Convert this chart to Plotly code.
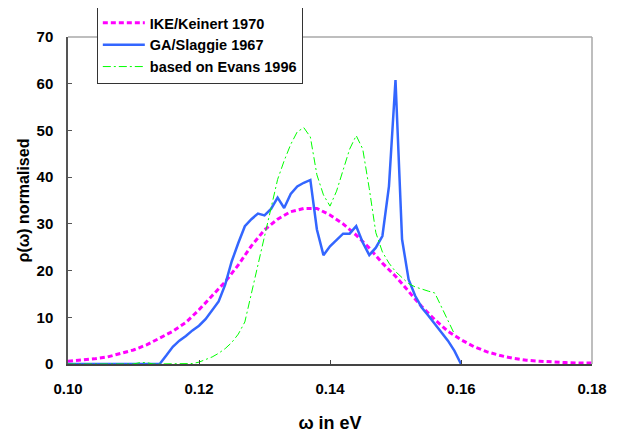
import plotly.graph_objects as go

# ---- data ----
ike_x = [0.100, 0.102, 0.104, 0.106, 0.108, 0.110, 0.112, 0.114, 0.116, 0.118,
         0.120, 0.122, 0.124, 0.126, 0.128, 0.130, 0.132, 0.134, 0.136, 0.138,
         0.140, 0.142, 0.144, 0.146, 0.148, 0.150, 0.152, 0.154, 0.156, 0.158,
         0.160, 0.162, 0.164, 0.166, 0.168, 0.170, 0.172, 0.174, 0.176, 0.178, 0.180]
ike_y = [0.6, 0.8, 1.1, 1.5, 2.2, 3.0, 4.1, 5.5, 7.0, 8.9,
         11.6, 14.6, 17.6, 21.2, 25.3, 28.7, 31.0, 32.6, 33.3, 33.3,
         31.9, 30.0, 27.6, 24.8, 21.6, 18.8, 15.5, 12.3, 9.5, 7.0,
         5.2, 3.7, 2.6, 1.8, 1.2, 0.8, 0.6, 0.4, 0.3, 0.2, 0.2]

ga_x = [0.100, 0.114, 0.115, 0.116, 0.117, 0.118, 0.119, 0.120, 0.121, 0.122,
        0.123, 0.124, 0.125, 0.126, 0.127, 0.128, 0.129, 0.130, 0.131, 0.132,
        0.133, 0.134, 0.135, 0.136, 0.137, 0.138, 0.139, 0.140, 0.141, 0.142,
        0.143, 0.144, 0.145, 0.146, 0.147, 0.148, 0.149, 0.150, 0.151, 0.152,
        0.153, 0.154, 0.155, 0.156, 0.157, 0.158, 0.159, 0.160]
ga_y = [0.0, 0.0, 1.8, 3.7, 5.0, 6.0, 7.2, 8.2, 9.6, 11.4,
        13.4, 17.0, 22.0, 25.9, 29.5, 31.0, 32.2, 31.8, 33.2, 35.6,
        33.4, 36.4, 38.0, 38.8, 39.4, 28.8, 23.3, 25.2, 26.6, 27.9,
        27.9, 29.5, 26.0, 23.3, 24.9, 27.4, 38.0, 60.8, 26.7, 18.1,
        14.6, 12.1, 10.4, 8.6, 6.6, 5.0, 2.8, 0.0]

ev_x = [0.100, 0.110, 0.111, 0.112, 0.113, 0.118, 0.119, 0.120, 0.121, 0.122,
        0.123, 0.124, 0.125, 0.126, 0.127, 0.128, 0.129, 0.130, 0.131, 0.132,
        0.133, 0.134, 0.135, 0.136, 0.137, 0.138, 0.139, 0.140, 0.141, 0.142,
        0.143, 0.144, 0.145, 0.146, 0.147, 0.148, 0.149, 0.150, 0.151, 0.152,
        0.153, 0.154, 0.155, 0.156, 0.157, 0.158, 0.159]
ev_y = [0.0, 0.0, 0.3, 0.3, 0.0, 0.0, 0.1, 0.4, 0.9, 1.5,
        2.3, 3.3, 4.6, 6.4, 9.0, 15.0, 21.0, 27.0, 33.5, 39.5,
        43.5, 47.0, 49.7, 50.6, 48.6, 40.5, 36.2, 33.8, 37.0, 41.5,
        46.0, 48.9, 46.0, 37.5, 28.1, 24.0, 21.6, 19.8, 18.6, 17.2,
        16.5, 16.0, 15.6, 15.2, 12.3, 9.5, 6.4]

names = ["IKE/Keinert 1970", "GA/Slaggie 1967", "based on Evans 1996"]
x_ticks = [0.10, 0.12, 0.14, 0.16, 0.18]
y_ticks = [0, 10, 20, 30, 40, 50, 60, 70]

FONT = "Liberation Sans, Arial, sans-serif"

fig = go.Figure()
fig.add_trace(go.Scatter(x=ike_x, y=ike_y, mode="lines", name=names[0], legendgroup="a",
                         line=dict(color="#FF00FF", width=3, dash="5px,3px")))
fig.add_trace(go.Scatter(x=ga_x, y=ga_y, mode="lines", name=names[1], legendgroup="b",
                         line=dict(color="#3366FF", width=2.5)))
fig.add_trace(go.Scatter(x=ev_x, y=ev_y, mode="lines", name=names[2], legendgroup="c",
                         line=dict(color="#00FF00", width=1, dash="8px,3px,2px,3px")))

# top / right frame lines
fig.add_shape(type="line", xref="paper", yref="paper", x0=0, x1=1, y0=1, y1=1,
              line=dict(color="#A8A8A8", width=1.5))
fig.add_shape(type="line", xref="paper", yref="paper", x0=1, x1=1, y0=0, y1=1,
              line=dict(color="#A8A8A8", width=1.5))

# the page body adds an 8px offset, so the figure is 8px smaller with left/top margins reduced by 8
fig.update_layout(
    width=611, height=426,
    margin=dict(l=60, r=27, t=29, b=70, autoexpand=False),
    paper_bgcolor="white", plot_bgcolor="white",
    font=dict(family=FONT, color="black"),
    showlegend=True,
    legend=dict(x=0.055, y=1.095, xanchor="left", yanchor="top",
                bgcolor="white", bordercolor="#333333", borderwidth=1,
                font=dict(family=FONT, size=14.5, weight="bold", color="black"),
                itemwidth=42, tracegroupgap=0),
    xaxis=dict(range=[0.10, 0.18], tickvals=x_ticks, tickformat=".2f", automargin=False,
               showgrid=False, zeroline=False, showline=True, linecolor="#444444", linewidth=1.5,
               ticks="inside", ticklen=4, tickcolor="#444444",
               tickfont=dict(family=FONT, size=15, weight="bold"), ticklabelstandoff=10,
               title=dict(text="ω in eV", font=dict(family=FONT, size=18, weight="bold"), standoff=21)),
    yaxis=dict(range=[0, 70], tickvals=y_ticks, automargin=False,
               showgrid=False, zeroline=False, showline=True, linecolor="#555555", linewidth=1.5,
               ticks="inside", ticklen=4, tickcolor="#555555",
               tickfont=dict(family=FONT, size=15, weight="bold"), ticklabelstandoff=10,
               title=dict(text="ρ(ω) normalised", font=dict(family=FONT, size=16, weight="bold"), standoff=3)),
)

fig.write_html("out.html")
